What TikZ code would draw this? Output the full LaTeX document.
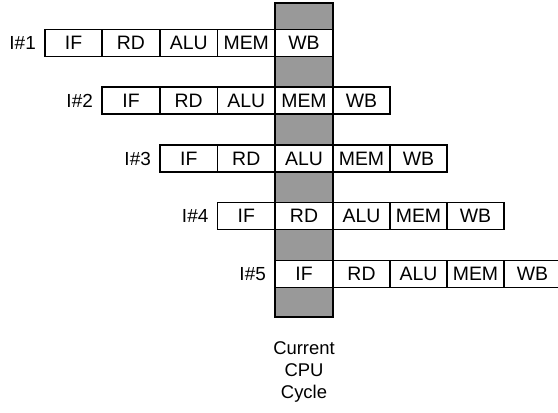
\documentclass[tikz,border=0pt]{standalone}
\usepackage{fontspec}
\setmainfont{Liberation Sans}
\begin{document}
\begin{tikzpicture}[x=1bp,y=-1bp,
  cell/.style={draw, fill=white, line width=1.2bp, minimum height=27bp, inner sep=0pt,
    font=\fontsize{19.5}{21}\selectfont},
  lbl/.style={anchor=east, inner sep=0pt, font=\fontsize{19}{21}\selectfont},
  shadecol/.style={draw, fill=black!40, line width=1.2bp, inner sep=0pt,
    minimum width=58bp, minimum height=314bp},
  captext/.style={align=center, inner sep=0pt, font=\fontsize{18.5}{22}\selectfont}]
\useasboundingbox (0,0) rectangle (558,412);
% current CPU cycle column
\node[shadecol] (col) at (304,160) {};
% pipeline rows
\foreach \r/\yc in {1/43,2/100.5,3/158.5,4/216,5/274}{
  \pgfmathsetmacro{\xs}{{45,102,160,217.5,275,333,390,447,504,561}[\r-1]}
  \node[lbl] (l\r) at (\xs-9,\yc) {I\#\r};
  \foreach \t [count=\i] in {IF,RD,ALU,MEM,WB}{
    \pgfmathsetmacro{\xl}{{45,102,160,217.5,275,333,390,447,504,561}[\r+\i-2]}
    \pgfmathsetmacro{\xr}{{45,102,160,217.5,275,333,390,447,504,561}[\r+\i-1]}
    \pgfmathsetmacro{\w}{\xr-\xl}
    \node[cell, minimum width=\w bp] (r\r c\i) at ({(\xl+\xr)/2},\yc) {\t};
  }
}
\node[captext] (cap) at (304,372) {Current\\CPU\\Cycle};
\end{tikzpicture}
\end{document}
